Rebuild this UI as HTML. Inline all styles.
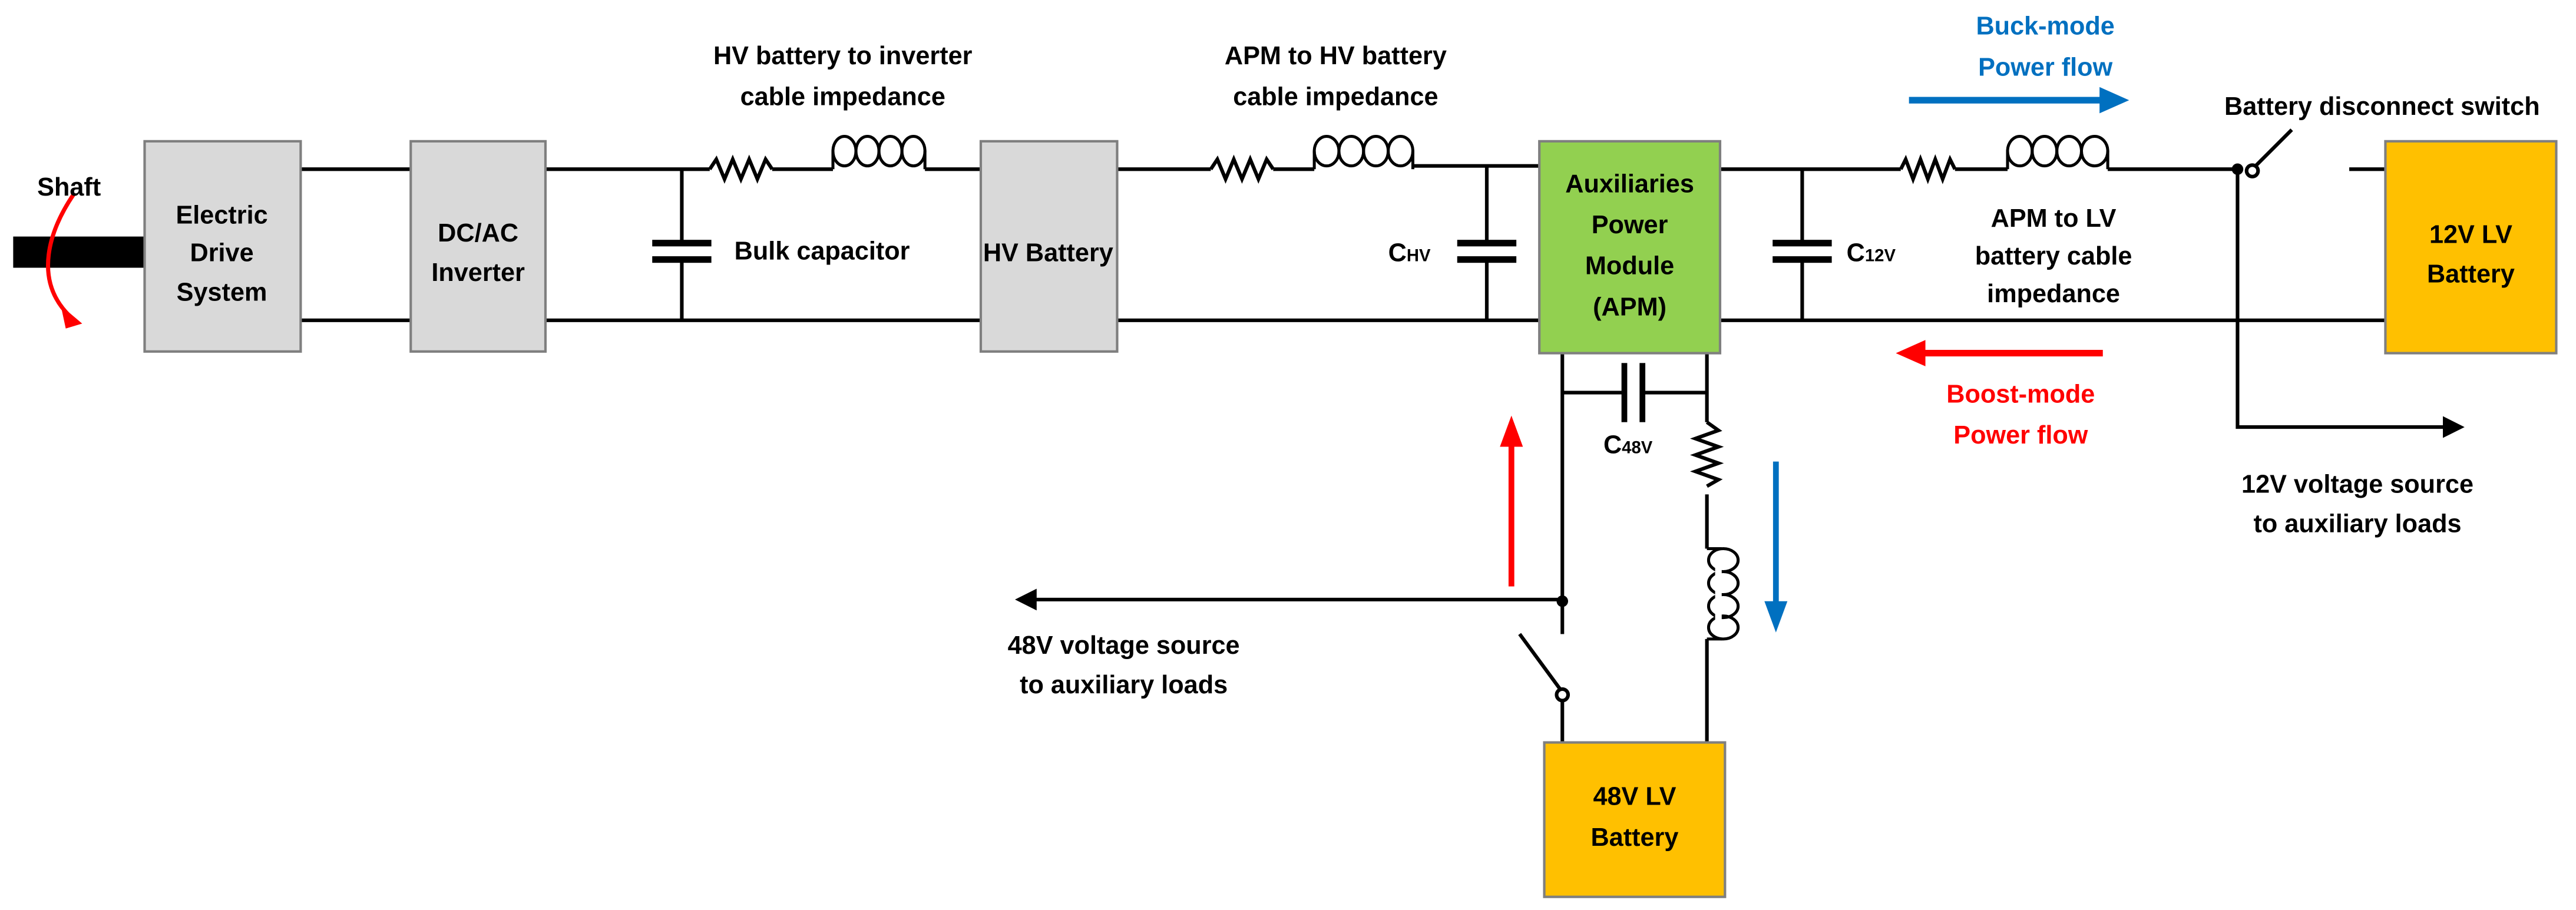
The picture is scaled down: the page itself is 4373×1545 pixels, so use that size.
<!DOCTYPE html>
<html><head><meta charset="utf-8"><style>
html,body{margin:0;padding:0;background:#fff;}
svg{display:block;}
text{font-family:"Liberation Sans",sans-serif;font-weight:bold;font-size:15.5px;fill:#000;}
</style></head><body>
<svg width="4373" height="1545" viewBox="0 0 1568 554" xmlns="http://www.w3.org/2000/svg">
<defs>
<marker id="ab" markerWidth="6" markerHeight="6" refX="5" refY="3" orient="auto" markerUnits="strokeWidth"><path d="M0,0 L6,3 L0,6 z" fill="#000"/></marker>
</defs>
<g stroke="#000" stroke-width="2.2" fill="none">
<path d="M183 103H250M183 195H250M332 103H432M332 195H597M415 103V149M415 157V195"/>
<path d="M470 103H507M563 103H597M680 103H737M680 195H937M775 103H800M860 101H937"/>
<path d="M905 101V149M905 157V195"/>
<path d="M1047 103H1157M1047 195H1452M1097 103V149M1097 157V195"/>
<path d="M1190 103H1222M1283 103H1362M1430 103H1452"/>
<path d="M1362 103V260H1498" marker-end="url(#ab)"/>
<path d="M432 103l4-6 5 12 5-12 5 12 5-12 5 12 5-12 4 6"/>
<path d="M737 103l4-6 5 12 5-12 5 12 5-12 5 12 5-12 4 6"/>
<path d="M1157 103l3-6 4.5 12 4.5-12 4.5 12 4.5-12 4.5 12 4.5-12 3 6"/>
</g>
<g stroke="#000" stroke-width="1.8" fill="none">
<path d="M507 103V92M563 103V92"/>
<ellipse cx="514" cy="92" rx="7" ry="9"/><ellipse cx="528" cy="92" rx="7" ry="9"/><ellipse cx="542" cy="92" rx="7" ry="9"/><ellipse cx="556" cy="92" rx="7" ry="9"/>
<path d="M800 103V92M860 103V92"/>
<ellipse cx="807.5" cy="92" rx="7.5" ry="9"/><ellipse cx="822.5" cy="92" rx="7.5" ry="9"/><ellipse cx="837.5" cy="92" rx="7.5" ry="9"/><ellipse cx="852.5" cy="92" rx="7.5" ry="9"/>
<path d="M1222 103V92M1283 103V92"/>
<ellipse cx="1229.5" cy="92" rx="7.5" ry="9"/><ellipse cx="1244.5" cy="92" rx="7.5" ry="9"/><ellipse cx="1259.5" cy="92" rx="7.5" ry="9"/><ellipse cx="1275" cy="92" rx="8" ry="9"/>
<path d="M1039 334H1048M1039 389H1048"/>
<ellipse cx="1049" cy="341" rx="9" ry="7"/><ellipse cx="1049" cy="355" rx="9" ry="7"/><ellipse cx="1049" cy="369" rx="9" ry="7"/><ellipse cx="1049" cy="382" rx="9" ry="7"/>
</g>
<rect x="1044" y="340" width="4" height="44" fill="#fff"/>
<g stroke="#000" stroke-width="2.2" fill="none">
<path d="M1372 102L1395 79"/>
<circle cx="1371" cy="104" r="3.5" fill="#fff"/>
<path d="M951 215V386M951 426V452M1039 215V257M1039 301V334M1039 389V452"/>
<path d="M951 239H990M1000 239H1039"/>
<path d="M1039 257l7 5-14 5 14 5-14 5 14 5-14 5 14 5-7 4"/>
<path d="M951 365H620" marker-end="url(#ab)"/>
<path d="M925 386L950 420"/>
<circle cx="951" cy="423" r="3.5" fill="#fff"/>
</g>
<circle cx="1362" cy="103" r="3.5" fill="#000"/>
<circle cx="951" cy="366" r="3.5" fill="#000"/>
<g fill="#000">
<rect x="397" y="146" width="36" height="4"/><rect x="397" y="156" width="36" height="4"/>
<rect x="887" y="146" width="36" height="4"/><rect x="887" y="156" width="36" height="4"/>
<rect x="1079" y="146" width="36" height="4"/><rect x="1079" y="156" width="36" height="4"/>
<rect x="987" y="221" width="3.5" height="36"/><rect x="998" y="221" width="3.5" height="36"/>
</g>
<rect x="8" y="144" width="80" height="19" fill="#000"/>
<path d="M45 118 C30 140 20 170 42 192" stroke="#f00" stroke-width="2.5" fill="none"/>
<path d="M37 186 L50 197 L40 200 z" fill="#f00"/>
<g stroke="#7f7f7f" stroke-width="1.5">
<rect x="88" y="86" width="95" height="128" fill="#d9d9d9"/>
<rect x="250" y="86" width="82" height="128" fill="#d9d9d9"/>
<rect x="597" y="86" width="83" height="128" fill="#d9d9d9"/>
<rect x="937" y="86" width="110" height="129" fill="#92d050"/>
<rect x="1452" y="86" width="104" height="129" fill="#ffc000"/>
<rect x="940" y="452" width="110" height="94" fill="#ffc000"/>
</g>
<path d="M1162 61H1280" stroke="#0070c0" stroke-width="4"/><path d="M1278 53L1296 61L1278 69z" fill="#0070c0"/>
<path d="M1280 215H1170" stroke="#f00" stroke-width="4"/><path d="M1172 207L1154 215L1172 223z" fill="#f00"/>
<path d="M920 357V270" stroke="#f00" stroke-width="3.5"/><path d="M913 272L920 253L927 272z" fill="#f00"/>
<path d="M1081 281V368" stroke="#0070c0" stroke-width="3.5"/><path d="M1074 366L1081 385L1088 366z" fill="#0070c0"/>
<g text-anchor="middle">
<text x="42" y="119">Shaft</text>
<text x="135" y="136">Electric</text><text x="135" y="159">Drive</text><text x="135" y="183">System</text>
<text x="291" y="147">DC/AC</text><text x="291" y="171">Inverter</text>
<text x="638" y="159">HV Battery</text>
<text x="513" y="39">HV battery to inverter</text><text x="513" y="64">cable impedance</text>
<text x="813" y="39">APM to HV battery</text><text x="813" y="64">cable impedance</text>
<text x="992" y="117">Auxiliaries</text><text x="992" y="142">Power</text><text x="992" y="167">Module</text><text x="992" y="192">(APM)</text>
<text x="1504" y="148">12V LV</text><text x="1504" y="172">Battery</text>
<text x="995" y="490">48V LV</text><text x="995" y="515">Battery</text>
<text x="1245" y="21" style="fill:#0070c0">Buck-mode</text><text x="1245" y="46" style="fill:#0070c0">Power flow</text>
<text x="1230" y="245" style="fill:#f00">Boost-mode</text><text x="1230" y="270" style="fill:#f00">Power flow</text>
<text x="1450" y="70">Battery disconnect switch</text>
<text x="1250" y="138">APM to LV</text><text x="1250" y="161">battery cable</text><text x="1250" y="184">impedance</text>
<text x="1435" y="300">12V voltage source</text><text x="1435" y="324">to auxiliary loads</text>
<text x="684" y="398">48V voltage source</text><text x="684" y="422">to auxiliary loads</text>
</g>
<text x="447" y="158">Bulk capacitor</text>
<text x="845" y="159">C<tspan font-size="10.5">HV</tspan></text>
<text x="1124" y="159">C<tspan font-size="10.5">12V</tspan></text>
<text x="976" y="276">C<tspan font-size="10.5">48V</tspan></text>
</svg>
</body></html>
